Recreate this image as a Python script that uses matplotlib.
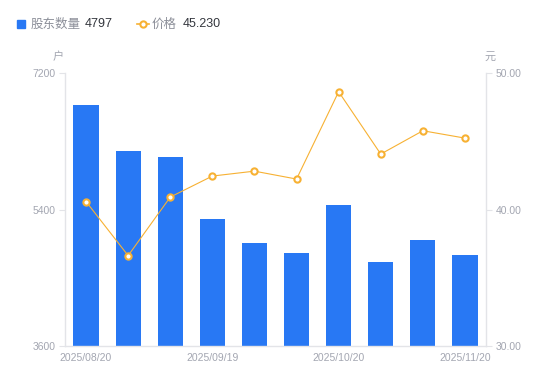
import matplotlib
matplotlib.use("Agg")
import matplotlib.pyplot as plt
from matplotlib.lines import Line2D
from matplotlib.patches import Rectangle
import numpy as np

dates = ["2025/08/20", "2025/08/31", "2025/09/10", "2025/09/19", "2025/09/30",
         "2025/10/10", "2025/10/20", "2025/10/31", "2025/11/10", "2025/11/20"]
holders = [6782, 6174, 6086, 5276, 4956, 4824, 5461, 4713, 5003, 4797]
prices = [40.58, 36.62, 40.91, 42.45, 42.81, 42.23, 48.63, 44.06, 45.77, 45.23]
left_ticks = [3600, 5400, 7200]
right_ticks = [30.0, 40.0, 50.0]

BLUE = "#2878F4"
ORANGE = "#F7B133"
GREY = "#A3A6B1"
AXC = "#E3E4E8"
FONT = ["Liberation Sans", "Noto Sans CJK SC", "DejaVu Sans"]
CJK = ["Noto Sans CJK SC", "DejaVu Sans"]

W, H = 550, 381
fig = plt.figure(figsize=(W / 100, H / 100), dpi=100)
L, R, T, B = 65, 486, 73, 346
ax = fig.add_axes([L / W, 1 - B / H, (R - L) / W, (B - T) / H])
ax2 = ax.twinx()

x = np.arange(len(dates))
ax.bar(x, holders, width=0.6, color=BLUE, zorder=2)
ax.set_xlim(-0.5, len(dates) - 0.5)
ax.set_ylim(left_ticks[0], left_ticks[-1])
ax.set_yticks(left_ticks)
ax.set_yticklabels([str(v) for v in left_ticks], family=FONT, fontsize=7.5, color=GREY)
ax.set_xticks(x[::3])
ax.set_xticklabels([dates[i] for i in x[::3]], family=FONT, fontsize=7.5, color=GREY)
ax.tick_params(axis="x", length=0, pad=5)
ax.tick_params(axis="y", length=4, color=AXC, pad=3)

ax2.plot(x, prices, color=ORANGE, lw=0.8, marker="o", ms=4.5, mfc="white",
         mec=ORANGE, mew=1.5, zorder=3)
ax2.set_ylim(right_ticks[0], right_ticks[-1])
ax2.set_yticks(right_ticks)
ax2.set_yticklabels([f"{v:.2f}" for v in right_ticks], family=FONT, fontsize=7.5, color=GREY)
ax2.tick_params(axis="y", length=4, color=AXC, pad=3)

for a in (ax, ax2):
    for s in ("top",):
        a.spines[s].set_visible(False)
    for s in ("left", "right", "bottom"):
        a.spines[s].set_color(AXC)
        a.spines[s].set_linewidth(1.0)
ax.spines["right"].set_visible(False)
ax2.spines["left"].set_visible(False)
ax2.spines["bottom"].set_visible(False)

# unit labels
fig.text(58 / W, 1 - 57 / H, "户", family=CJK, fontsize=8, color=GREY, ha="center", va="center")
fig.text(490 / W, 1 - 57 / H, "元", family=CJK, fontsize=8, color=GREY, ha="center", va="center")

# legend
ly = 1 - 24 / H
fig.patches.append(Rectangle((17 / W, 1 - 28 / H), 8 / W, 8 / H, transform=fig.transFigure,
                             color=BLUE, figure=fig))
fig.text(31 / W, ly, "股东数量", family=CJK, fontsize=9, color="#8C8F99", va="center")
fig.text(85 / W, ly, "4797", family=FONT, fontsize=9, color="#33363D", va="center")
fig.lines.append(Line2D([137 / W, 149 / W], [ly, ly], transform=fig.transFigure,
                        color=ORANGE, lw=1.2, figure=fig))
fig.lines.append(Line2D([143 / W], [ly], transform=fig.transFigure, marker="o", ms=4.5,
                        mfc="white", mec=ORANGE, mew=1.5, figure=fig))
fig.text(152 / W, ly, "价格", family=CJK, fontsize=9, color="#8C8F99", va="center")
fig.text(183 / W, ly, "45.230", family=FONT, fontsize=9, color="#33363D", va="center")

fig.savefig("out.png", dpi=100, facecolor="white")
